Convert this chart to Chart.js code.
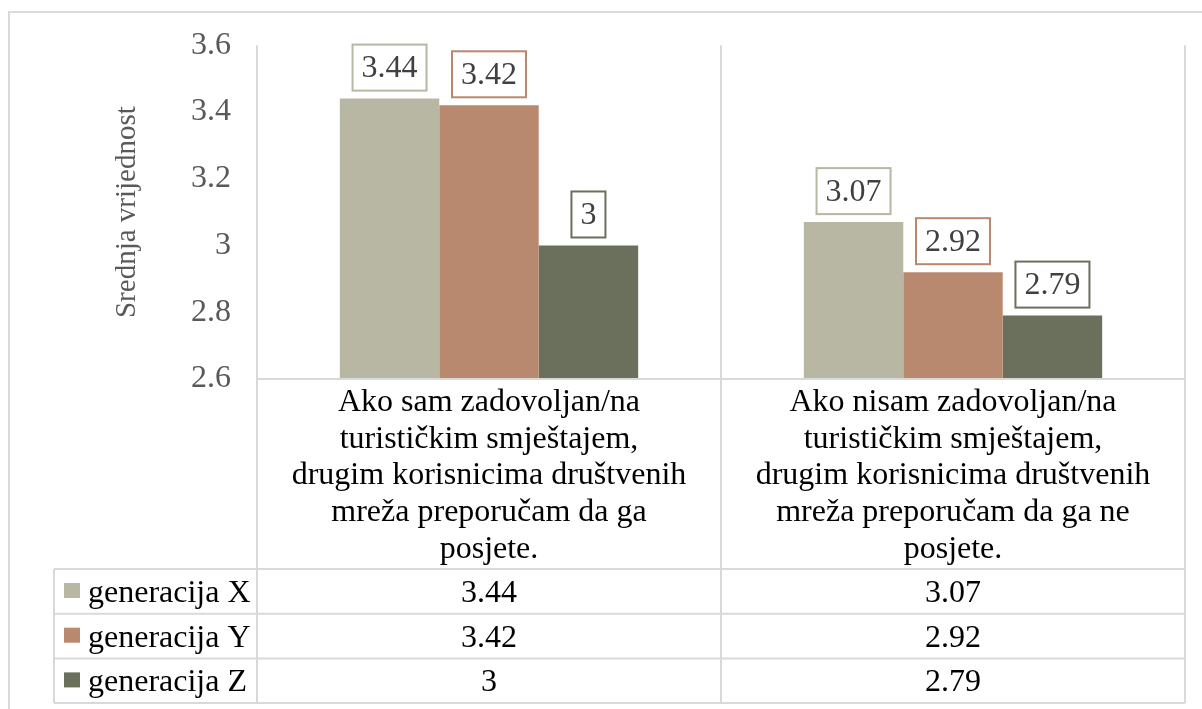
<!DOCTYPE html>
<html>
<head>
<meta charset="utf-8">
<script src="https://cdn.jsdelivr.net/npm/chart.js@4.4.1/dist/chart.umd.min.js"></script>
<style>
html,body{margin:0;padding:0;background:#ffffff;overflow:hidden}
#wrap{width:1202px;height:709px;position:relative}
</style>
</head>
<body>
<div id="wrap"><canvas id="c" width="1202" height="709"></canvas></div>
<script>
// ---- data ----
const categoryLines = [
  ["Ako sam zadovoljan/na", "turističkim smještajem,", "drugim korisnicima društvenih", "mreža preporučam da ga", "posjete."],
  ["Ako nisam zadovoljan/na", "turističkim smještajem,", "drugim korisnicima društvenih", "mreža preporučam da ga ne", "posjete."]
];
const seriesNames = ["generacija X", "generacija Y", "generacija Z"];
const genX = [3.44, 3.07];
const genY = [3.42, 2.92];
const genZ = [3, 2.79];
const yTickLabels = ["2.6", "2.8", "3", "3.2", "3.4", "3.6"];
const yAxisTitle = "Srednja vrijednost";

// ---- styles ----
const seriesColors = ["#B7B7A4", "#B9896F", "#6B705C"];
const FONT = "'Liberation Serif', 'Times New Roman', serif";
const LINE = "#D9D9D9";

const yMin = parseFloat(yTickLabels[0]);
const yMax = parseFloat(yTickLabels[yTickLabels.length - 1]);

const TABLE = { headerH: 190, rowH: 44.7, legendLeft: 54, fontSize: 32 };

const tablePlugin = {
  id: 'tablePlugin',
  afterDatasetsDraw(chart) {
    const ctx = chart.ctx;
    ctx.save();
    ctx.font = "32px " + FONT;
    ctx.textAlign = 'center';
    ctx.textBaseline = 'middle';
    chart.data.datasets.forEach((ds, di) => {
      const meta = chart.getDatasetMeta(di);
      meta.data.forEach((bar, i) => {
        const txt = String(ds.data[i]);
        const w = ctx.measureText(txt).width + 18;
        const h = 46;
        const bx = bar.x - w / 2;
        const by = bar.y - 8 - h;
        ctx.fillStyle = '#ffffff';
        ctx.fillRect(bx, by, w, h);
        ctx.strokeStyle = seriesColors[di];
        ctx.lineWidth = 2;
        ctx.strokeRect(bx, by, w, h);
        ctx.fillStyle = '#404040';
        ctx.fillText(txt, bar.x, by + h / 2 + 1);
      });
    });
    ctx.restore();
  },
  afterDraw(chart) {
    const ctx = chart.ctx;
    const a = chart.chartArea;
    const xs = chart.scales.x;
    const n = chart.data.labels.length;
    const colW = (a.right - a.left) / n;
    const tTop = a.bottom;
    const rowsTop = tTop + TABLE.headerH;
    const nRows = chart.data.datasets.length;
    const tBottom = rowsTop + nRows * TABLE.rowH;
    ctx.save();
    ctx.strokeStyle = LINE;
    ctx.lineWidth = 2;
    // outer chart border
    ctx.beginPath();
    ctx.moveTo(9, chart.height + 5); ctx.lineTo(9, 12); ctx.lineTo(chart.width + 5, 12);
    ctx.stroke();
    // axis + column lines
    ctx.beginPath();
    ctx.moveTo(a.left, a.top); ctx.lineTo(a.left, tBottom);
    for (let i = 1; i <= n; i++) {
      const x = a.left + i * colW;
      ctx.moveTo(x, a.top); ctx.lineTo(x, tBottom);
    }
    ctx.moveTo(a.left, a.bottom); ctx.lineTo(a.right, a.bottom);
    for (let r = 0; r <= nRows; r++) {
      const y = rowsTop + r * TABLE.rowH;
      ctx.moveTo(TABLE.legendLeft, y); ctx.lineTo(a.right, y);
    }
    ctx.moveTo(TABLE.legendLeft, rowsTop); ctx.lineTo(TABLE.legendLeft, tBottom);
    ctx.stroke();

    // header category labels
    ctx.fillStyle = '#000000';
    ctx.font = TABLE.fontSize + "px " + FONT;
    ctx.textAlign = 'center';
    ctx.textBaseline = 'alphabetic';
    categoryLines.forEach((lines, i) => {
      const cx = xs.getPixelForValue(i);
      lines.forEach((ln, k) => {
        ctx.fillText(ln, cx, tTop + 32 + k * 36.7);
      });
    });
    // rows
    chart.data.datasets.forEach((ds, r) => {
      const yTopRow = rowsTop + r * TABLE.rowH;
      const base = yTopRow + 33;
      ctx.fillStyle = seriesColors[r];
      ctx.fillRect(TABLE.legendLeft + 10, yTopRow + 14, 16, 15);
      ctx.fillStyle = '#000000';
      ctx.textAlign = 'left';
      ctx.fillText(ds.label, TABLE.legendLeft + 34, base);
      ctx.textAlign = 'center';
      ds.data.forEach((v, i) => {
        ctx.fillText(String(v), xs.getPixelForValue(i), base);
      });
    });
    ctx.restore();
  }
};

new Chart(document.getElementById('c'), {
  type: 'bar',
  data: {
    labels: categoryLines.map(l => l.join(' ')),
    datasets: [
      { label: seriesNames[0], data: genX, backgroundColor: seriesColors[0] },
      { label: seriesNames[1], data: genY, backgroundColor: seriesColors[1] },
      { label: seriesNames[2], data: genZ, backgroundColor: seriesColors[2] }
    ]
  },
  options: {
    responsive: false,
    animation: false,
    devicePixelRatio: 1,
    layout: { padding: { left: 0, top: 43, right: 17, bottom: 330 } },
    datasets: { bar: { categoryPercentage: 0.643, barPercentage: 1.0, borderWidth: 0 } },
    plugins: { legend: { display: false }, tooltip: { enabled: false } },
    scales: {
      x: { display: false },
      y: {
        min: yMin, max: yMax,
        afterFit(scale) { scale.width = 257; },
        afterBuildTicks(scale) { scale.ticks = yTickLabels.map(t => ({ value: parseFloat(t), label: t })); },
        grid: { display: false, drawTicks: false },
        border: { display: false },
        ticks: {
          padding: 26,
          color: '#595959',
          font: { family: FONT, size: 32 },
          callback: (v, i) => yTickLabels[i]
        },
        title: {
          display: true,
          text: yAxisTitle,
          color: '#595959',
          font: { family: FONT, size: 29 },
          padding: { top: 110, bottom: 0 }
        }
      }
    }
  },
  plugins: [tablePlugin]
});
</script>
</body>
</html>
